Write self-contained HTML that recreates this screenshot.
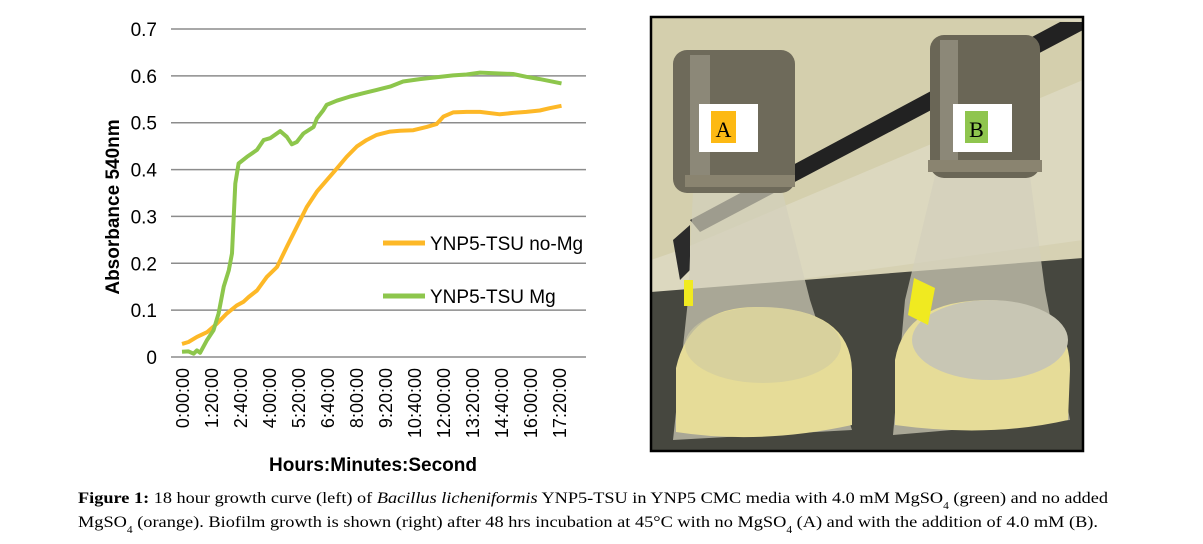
<!DOCTYPE html>
<html><head><meta charset="utf-8">
<style>
html,body{margin:0;padding:0;background:#fff;}
svg{display:block;}
.tick{font-family:"Liberation Sans",sans-serif;font-size:19px;fill:#000;}
.xt{font-family:"Liberation Sans",sans-serif;font-size:18px;fill:#000;}
.title{font-family:"Liberation Sans",sans-serif;font-size:19px;font-weight:bold;fill:#000;}
.leg{font-family:"Liberation Sans",sans-serif;font-size:19px;fill:#000;}
.cap{font-family:"Liberation Serif",serif;font-size:16px;fill:#000;}
</style></head>
<body>
<svg id="root" width="1203" height="544" viewBox="0 0 1203 544">
<g id="chart"></g>
<g id="photo">
  <rect x="651" y="17" width="432" height="434" fill="#d6d1b3"/>
  <polygon points="651,17 1083,17 1083,240 651,300" fill="#dcd8bf"/>
  <polygon points="651,17 1000,17 1083,22 1083,80 680,250 651,260" fill="#d4cfad"/>
  <polygon points="690,220 1060,22 1083,22 1083,30 700,232" fill="#222"/>
  <polygon points="673,240 690,225 690,270 680,280" fill="#2b2b2b"/>
  <polygon points="651,292 1083,258 1083,451 651,451" fill="#46473f"/>
  <polygon points="693,190 782,190 810,300 852,430 673,440 688,300" fill="#d3d0bc" opacity="0.7"/>
  <path d="M676,368 Q690,305 760,307 Q850,308 852,370 L852,425 Q760,445 676,432 Z" fill="#e6dc98"/>
  <ellipse cx="763" cy="345" rx="78" ry="38" fill="#cfcaa0" opacity="0.6"/>
  <rect x="673" y="50" width="122" height="143" rx="14" fill="#6e6a5a"/>
  <rect x="690" y="55" width="20" height="130" fill="#8c8878"/>
  <rect x="685" y="175" width="110" height="12" fill="#8a8470"/>
  <rect x="684" y="280" width="9" height="26" fill="#f0ea20"/>
  <polygon points="935,176 1030,176 1045,290 1070,420 893,435 905,300" fill="#d3d0bc" opacity="0.7"/>
  <path d="M895,360 Q905,300 990,300 Q1070,302 1070,370 L1068,420 Q990,438 895,425 Z" fill="#e6dc98"/>
  <ellipse cx="990" cy="340" rx="78" ry="40" fill="#c8c6b4"/>
  <rect x="930" y="35" width="110" height="143" rx="14" fill="#6a6656"/>
  <rect x="940" y="40" width="18" height="130" fill="#8c8878"/>
  <rect x="928" y="160" width="114" height="12" fill="#8a8470"/>
  <polygon points="914,278 935,288 928,325 908,315" fill="#f0ea20"/>
  <rect x="699" y="104" width="59" height="48" fill="#fff"/>
  <rect x="711" y="111" width="25" height="32" fill="#fdb913"/>
  <text x="723.5" y="137" text-anchor="middle" font-family="Liberation Serif,serif" font-size="22">A</text>
  <rect x="953" y="104" width="59" height="48" fill="#fff"/>
  <rect x="965" y="111" width="23" height="32" fill="#8fc54e"/>
  <text x="976.5" y="137" text-anchor="middle" font-family="Liberation Serif,serif" font-size="22">B</text>
  <rect x="651" y="17" width="432" height="434" fill="none" stroke="#000" stroke-width="2.5"/>
</g>
<g>
  <text class="cap" x="78" y="503" textLength="1030" lengthAdjust="spacingAndGlyphs"><tspan font-weight="bold">Figure 1:</tspan> 18 hour growth curve (left) of <tspan font-style="italic">Bacillus licheniformis</tspan> YNP5-TSU in YNP5 CMC media with 4.0 mM MgSO<tspan font-size="10" dy="6">4</tspan><tspan dy="-6"> (green) and no added</tspan></text>
  <text class="cap" x="78" y="527" textLength="1020" lengthAdjust="spacingAndGlyphs">MgSO<tspan font-size="10" dy="6">4</tspan><tspan dy="-6"> (orange). Biofilm growth is shown (right) after 48 hrs incubation at 45°C with no MgSO</tspan><tspan font-size="10" dy="6">4</tspan><tspan dy="-6"> (A) and with the addition of 4.0 mM (B).</tspan></text>
</g>
</svg>
<script>
const yTicks = [0, 0.1, 0.2, 0.3, 0.4, 0.5, 0.6, 0.7];
const yTickLabels = ["0", "0.1", "0.2", "0.3", "0.4", "0.5", "0.6", "0.7"];
const xTickMinutes = [0, 80, 160, 240, 320, 400, 480, 560, 640, 720, 800, 880, 960, 1040];
const xTickLabels = ["0:00:00","1:20:00","2:40:00","4:00:00","5:20:00","6:40:00","8:00:00","9:20:00","10:40:00","12:00:00","13:20:00","14:40:00","16:00:00","17:20:00"];
const seriesNames = ["YNP5-TSU no-Mg", "YNP5-TSU Mg"];
const noMgMinutes = [0,18,41,69,96,124,151,170,184,207,234,262,289,317,344,372,399,427,454,482,509,537,574,601,638,675,702,721,748,785,822,877,913,950,987,1014,1047];
const noMgValues = [0.028,0.032,0.043,0.053,0.071,0.093,0.110,0.118,0.128,0.142,0.171,0.192,0.235,0.278,0.320,0.353,0.377,0.402,0.427,0.449,0.463,0.474,0.481,0.483,0.484,0.491,0.497,0.513,0.522,0.523,0.523,0.518,0.521,0.523,0.526,0.531,0.536];
const mgMinutes = [0,18,32,41,50,69,87,101,115,129,138,147,156,179,207,225,243,271,289,303,317,335,363,372,390,399,427,464,500,537,574,610,656,702,748,785,822,877,913,950,987,1047];
const mgValues = [0.011,0.012,0.007,0.014,0.009,0.036,0.057,0.093,0.150,0.185,0.221,0.370,0.413,0.427,0.442,0.463,0.467,0.482,0.470,0.454,0.459,0.477,0.491,0.509,0.527,0.538,0.547,0.556,0.563,0.570,0.577,0.588,0.593,0.597,0.601,0.603,0.607,0.605,0.604,0.598,0.593,0.584];

const NS = "http://www.w3.org/2000/svg";
const chart = document.getElementById('chart');
const xScale = m => 182 + m * (559 - 182) / 1040;
const yScale = v => 357 - v * (357 - 29) / 0.7;
function mk(tag, attrs) {
  const e = document.createElementNS(NS, tag);
  for (const k in attrs) e.setAttribute(k, attrs[k]);
  chart.appendChild(e);
  return e;
}
yTicks.forEach((v, i) => {
  const g = mk('line', {x1: 171, x2: 586, y1: yScale(v), y2: yScale(v), stroke: '#8c8c8c', 'stroke-width': 1.5});
  
  
  const t = mk('text', {x: 157, y: yScale(v) + 7, 'text-anchor': 'end', class: 'tick'});
  t.textContent = yTickLabels[i];
  
  
});
xTickMinutes.forEach((m, i) => {
  const x = xScale(m);
  const t = mk('text', {x: 0, y: 0, 'text-anchor': 'end', class: 'xt', transform: `translate(${x + 7},368) rotate(-90)`});
  t.textContent = xTickLabels[i];
  
  
});
function drawLine(ms, vs, color, name) {
  const pts = ms.map((m, i) => xScale(m).toFixed(1) + ',' + yScale(vs[i]).toFixed(1)).join(' ');
  const p = mk('polyline', {points: pts, fill: 'none', stroke: color, 'stroke-width': 4, 'stroke-linejoin': 'round'});
  
  
}
drawLine(noMgMinutes, noMgValues, '#fdb827', 'series-no-mg-line');
drawLine(mgMinutes, mgValues, '#8dc64c', 'series-mg-line');
const legColors = ['#fdb827', '#8dc64c'];
const legY = [243, 296];
seriesNames.forEach((n, i) => {
  const l = mk('line', {x1: 383, x2: 425, y1: legY[i], y2: legY[i], stroke: legColors[i], 'stroke-width': 5});
  
  
  const t = mk('text', {x: 430, y: legY[i] + 7, class: 'leg'});
  t.textContent = n;
  
  
});
const yt = mk('text', {x: 0, y: 0, 'text-anchor': 'middle', class: 'title', transform: 'translate(119,207) rotate(-90)'});
yt.textContent = 'Absorbance 540nm';


const xt = mk('text', {x: 373, y: 471, 'text-anchor': 'middle', class: 'title'});
xt.textContent = 'Hours:Minutes:Second';


</script>
</body></html>
